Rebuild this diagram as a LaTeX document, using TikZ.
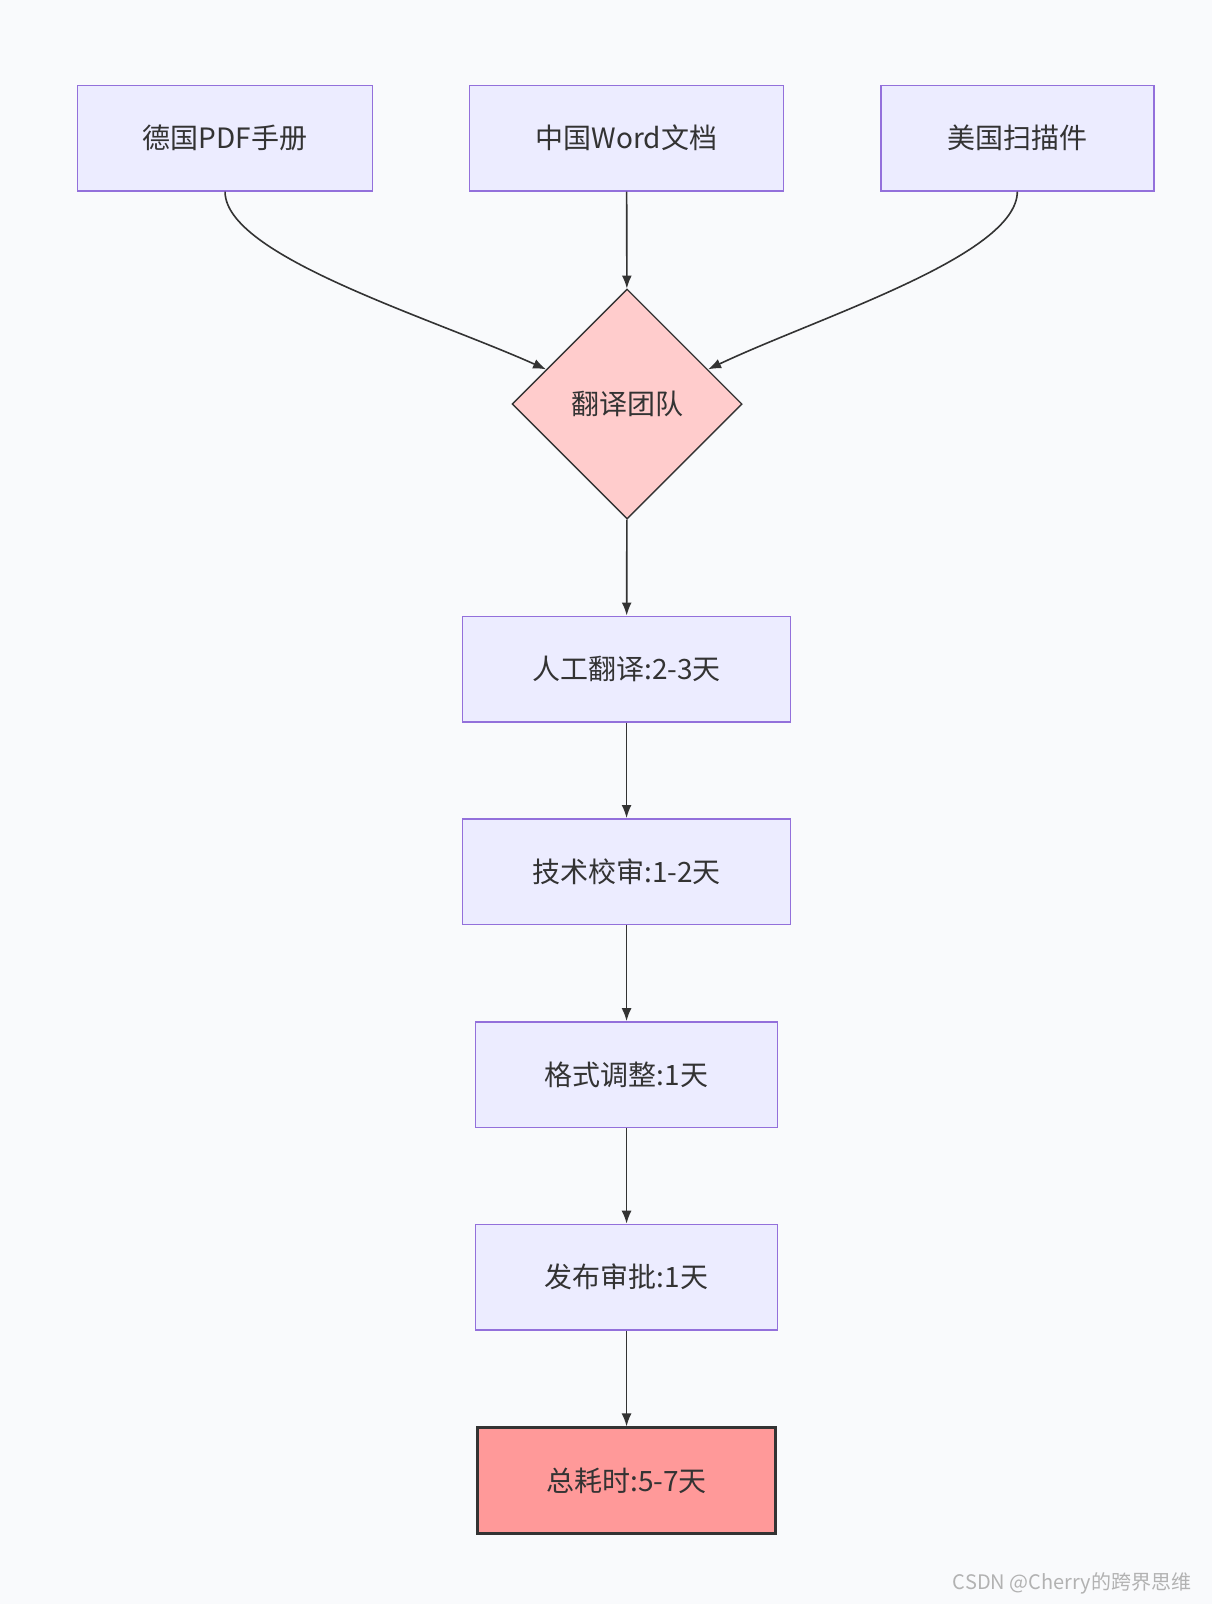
\documentclass[tikz,border=0pt]{standalone}
\usepackage{fontspec}
\setmainfont{Noto Sans CJK SC}
\usetikzlibrary{arrows.meta,positioning,calc,shapes.geometric}
\definecolor{boxfill}{HTML}{ECECFF}
\definecolor{boxline}{HTML}{9370DB}
\definecolor{dfill}{HTML}{FFCCCC}
\definecolor{endfill}{HTML}{FF9999}
\definecolor{ink}{HTML}{333333}
\definecolor{bg}{HTML}{F9FAFC}
\begin{document}
\begin{tikzpicture}[x=1.0228pt, y=-1.0228pt,
            every node/.style={font=\fontsize{28}{32}\selectfont, text=ink},
            stage/.style={draw=boxline, fill=boxfill, line width=1.5pt, minimum height=105.5pt},
            link/.style={draw=ink, line width=1.6pt, -{Latex[length=13pt,width=10pt]}}]
        \fill[bg] (0,0) rectangle (1185,1568);
        \useasboundingbox (0,0) rectangle (1185,1568);
        \node[stage, minimum width=295pt] (de) at (220,135) {德国PDF手册};
        \node[stage, minimum width=314pt] (cn) at (612.5,135) {中国Word文档};
        \node[stage, minimum width=273pt] (us) at (994.5,135) {美国扫描件};
        \node[diamond, draw=ink, fill=dfill, line width=1.4pt, minimum width=230pt, minimum height=230pt, inner sep=0pt] (team) at (613,395) {翻译团队};
        \node[stage, minimum width=328pt] (manual) at (612.5,654) {人工翻译:2-3天};
        \node[stage, minimum width=328pt] (check) at (612.5,852) {技术校审:1-2天};
        \node[stage, minimum width=302pt] (format) at (612.5,1050.5) {格式调整:1天};
        \node[stage, minimum width=302pt] (approve) at (612.5,1248.5) {发布审批:1天};
        \node[draw=ink, fill=endfill, line width=3pt, minimum width=298pt, minimum height=105.5pt] (total) at (612.5,1447.5) {总耗时:5-7天};
        \node[font=\fontsize{20}{24}\selectfont, text=gray!60] (mark) at (1048,1548) {CSDN @Cherry的跨界思维};
        % connectors
        \coordinate (inL) at ($(team.west)!0.3!(team.north)$);
        \coordinate (inR) at ($(team.east)!0.3!(team.north)$);
        \draw[link] (de.south) .. controls (220,250) and (420,310) .. (inL);
        \draw[link] (us.south) .. controls (994,250) and (800,310) .. (inR);
        \draw[link] (cn) -- (team);
        \draw[link] (team) -- (manual);
        \draw[link] (manual) -- (check);
        \draw[link] (check) -- (format);
        \draw[link] (format) -- (approve);
        \draw[link] (approve) -- (total);
\end{tikzpicture}
\end{document}
